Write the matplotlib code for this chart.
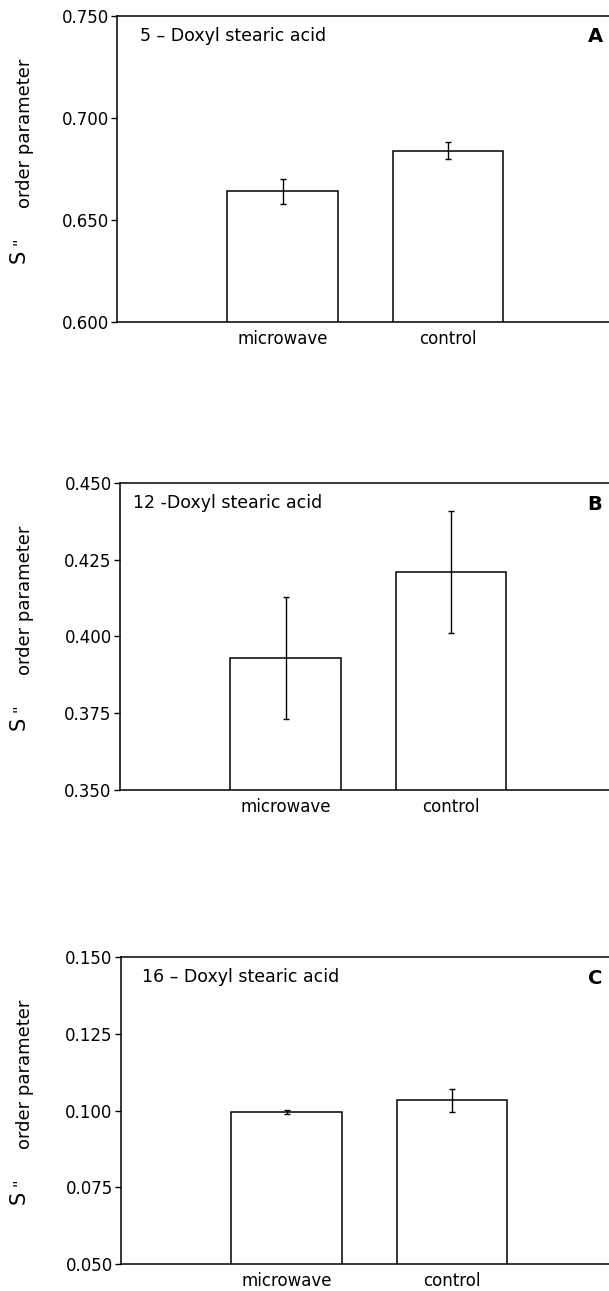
import matplotlib
matplotlib.use("Agg")
import matplotlib.pyplot as plt

# data
categories = ["microwave", "control"]
titles = ["5 \u2013 Doxyl stearic acid", "12 -Doxyl stearic acid", "16 \u2013 Doxyl stearic acid"]
letters = ["A", "B", "C"]

a_vals = [0.664, 0.684]
a_err = [0.006, 0.0043]
b_vals = [0.393, 0.421]
b_err = [0.020, 0.020]
c_vals = [0.0995, 0.1033]
c_err = [0.0008, 0.0037]

a_ticks = [0.600, 0.650, 0.700, 0.750]
b_ticks = [0.350, 0.375, 0.400, 0.425, 0.450]
c_ticks = [0.050, 0.075, 0.100, 0.125, 0.150]

W, H = 609, 1291
plt.rcParams['font.family'] = ['DejaVu Sans']

fig = plt.figure(figsize=(W / 100, H / 100), dpi=100)

# pixel boxes (left, top, bottom) of each panel
boxes = [(117, 16, 322), (120, 483, 790), (121, 957, 1264)]
panels = [(a_vals, a_err, a_ticks), (b_vals, b_err, b_ticks), (c_vals, c_err, c_ticks)]
title_x = [140, 133, 142]

def fx(px):
    return px / W

def fy(py):
    return 1 - py / H

for i, ((left, top, bot), (vals, err, ticks)) in enumerate(zip(boxes, panels)):
    ax = fig.add_axes([fx(left), fy(bot), 496.5 / W, (bot - top) / H])
    x = list(range(len(categories)))
    ax.bar(x, vals, width=0.667, color='white', edgecolor='black', linewidth=1.1, zorder=2)
    ax.errorbar(x, vals, yerr=err, fmt='none', ecolor='black', elinewidth=1.0,
                capsize=2.5, capthick=1.0, zorder=3)
    ax.set_xlim(-1, 2)
    ax.set_ylim(ticks[0], ticks[-1])
    ax.set_yticks(ticks)
    ax.set_yticklabels([f"{t:.3f}" for t in ticks], fontsize=12)
    ax.set_xticks(x)
    ax.set_xticklabels(categories, fontsize=12)
    ax.tick_params(axis='x', length=0, pad=6)
    ax.tick_params(axis='y', direction='out', length=4, width=1, pad=2)
    for s in ax.spines.values():
        s.set_linewidth(1.1)

    fig.text(fx(title_x[i]), fy(top + 20), titles[i], fontsize=12.5, ha='left', va='center')
    fig.text(fx(595), fy(top + 21), letters[i], fontsize=14, fontweight='bold',
             ha='center', va='center')

    # y label: large S, small primes, then the words
    fig.text(fx(18.5), fy(top + 240), "S", fontsize=15, rotation=90, ha='center', va='center')
    fig.text(fx(20.5), fy(top + 225), "''", fontsize=11, rotation=90, ha='center', va='center')
    fig.text(fx(25), fy(top + 117), "order parameter", fontsize=13, rotation=90,
             ha='center', va='center')

fig.savefig("out.png", dpi=100)
